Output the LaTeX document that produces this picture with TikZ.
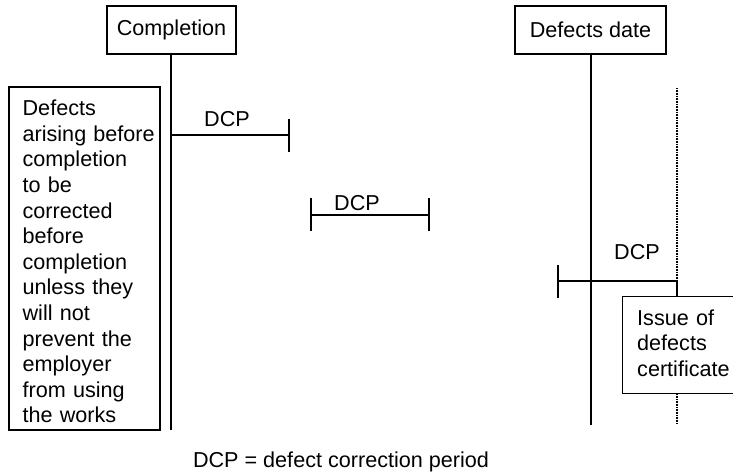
\documentclass[tikz,border=0pt]{standalone}
\usepackage{fontspec}
\setmainfont{Liberation Sans}
\begin{document}
\begin{tikzpicture}[x=1pt,y=-1pt,
  font=\fontsize{21.6}{25.6}\selectfont,
  box/.style={draw, line width=1.1pt, inner sep=0pt},
  txt/.style={inner sep=0pt, text width=140pt, align=left,
    execute at begin node={\hyphenpenalty=10000\exhyphenpenalty=10000}},
  timeline/.style={line width=1.6pt},
  span/.style={line width=1.1pt},
  dotline/.style={line width=1.3pt, dash pattern=on 0.9pt off 0.7pt},
  lbl/.style={anchor=base, inner sep=0pt}]
\useasboundingbox (0,0) rectangle (733,473);
% top boxes
\node[box, minimum width=129pt, minimum height=48pt] (comp) at (171.5,30) {Completion};
\node[box, minimum width=151pt, minimum height=48pt] (ddate) at (590.5,30) {Defects date};
% left note box
\node[box, minimum width=151pt, minimum height=343pt] (note) at (84.5,258.5) {};
\node[txt, anchor=west] (notetext) at ([shift={(14,3)}]note.west)
 {Defects\\arising before\\completion\\to be\\corrected\\before\\completion\\unless they\\will not\\prevent the\\employer\\from using\\the works};
% issue box
\node[box, minimum width=113pt, minimum height=97pt, anchor=north west] (issue) at (622,296) {};
\node[txt, anchor=west] (issuetext) at ([shift={(15,-2)}]issue.west)
 {Issue of\\defects\\certificate};
% coordinates
\coordinate (compEnd) at (171,430);
\coordinate (ddEnd) at (591,425);
\coordinate (dotTop) at (677,88);
\coordinate (dcpC) at (677,281);
\coordinate (dotEnd) at (677,423);
\coordinate (a1) at (171,135);
\coordinate (b1) at (289,135);
\coordinate (a2) at (311,215);
\coordinate (b2) at (429,215);
\coordinate (a3) at (558,281);
% timelines
\draw[timeline] (comp.south -| compEnd) -- (compEnd);
\draw[timeline] (ddate.south -| ddEnd) -- (ddEnd);
\draw[dotline] (dotTop) -- (dcpC);
\draw[span] (dcpC) -- (issue.north -| dcpC);
\draw[dotline] (issue.south -| dcpC) -- (dotEnd);
% DCP spans
\draw[span] (a1) -- (b1);
\draw[span] ([yshift=-17pt]b1) -- ([yshift=16pt]b1);
\draw[span] (a2) -- (b2);
\draw[span] ([yshift=-16pt]a2) -- ([yshift=17pt]a2);
\draw[span] ([yshift=-16pt]b2) -- ([yshift=17pt]b2);
\draw[span] (a3) -- (dcpC);
\draw[span] ([yshift=-17pt]a3) -- ([yshift=16pt]a3);
% labels
\node[lbl] (l1) at (227,127) {DCP};
\node[lbl] (l2) at (357,211) {DCP};
\node[lbl] (l3) at (637,259) {DCP};
\node[lbl] (cap) at (341,467) {DCP = defect correction period};
\end{tikzpicture}
\end{document}
